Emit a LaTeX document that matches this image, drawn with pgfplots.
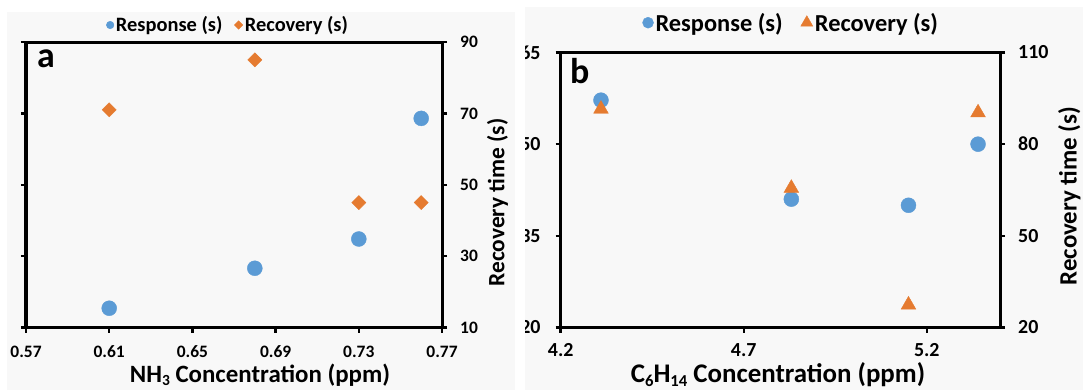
\documentclass[border=0pt]{standalone}
\usepackage{pgfplots}
\pgfplotsset{compat=1.18}
\usepackage{fontspec}
\setmainfont{Carlito}
\definecolor{cblue}{HTML}{5B9BD5}
\definecolor{corange}{HTML}{E57B30}
\definecolor{bg}{HTML}{F8F8F8}
\newcommand{\fs}[1]{\fontsize{#1}{#1}\selectfont\bfseries}
\newcommand{\sub}[1]{\raisebox{-0.12em}{\fontsize{0.62em}{0.62em}\selectfont #1}}

\begin{document}
\begin{tikzpicture}
\useasboundingbox (0bp,0bp) rectangle (1083bp,390bp);
\fill[bg] (7bp,0bp) rectangle (515bp,378bp);
\fill[bg] (525bp,0bp) rectangle (1083bp,383bp);

\pgfplotsset{
  every axis/.append style={
    scale only axis,
    axis line style={line width=3bp},
    major tick length=5bp,
    tick style={line width=2.5bp, black},
    tick align=outside,
    /pgf/number format/assume math mode=true,
    clip=false,
  },
}

% ---------------- Panel a ----------------
\begin{axis}[at={(26bp,62.5bp)}, anchor=south west, width=416bp, height=285.5bp,
  xmin=0.57, xmax=0.77, ymin=0, ymax=40,
  xtick={0.57,0.61,0.65,0.69,0.73,0.77},
  xticklabels={0.57,0.61,0.65,0.69,0.73,0.77},
  ytick={0,10,20,30,40}, yticklabels={},
  tick pos=left,
  xticklabel style={font=\fs{17.5}, anchor=center, inner sep=1bp, yshift=-19bp},
  xlabel={NH\sub{3} Concentration (ppm)},
  xlabel style={font=\fs{25}, inner sep=0pt, at={(axis description cs:0.5625,-0.168)}, anchor=center},
]
\addplot[only marks, mark=*, mark size=7.5bp, cblue] coordinates {(0.61,2.7) (0.68,8.3) (0.73,12.4) (0.76,29.3)};
\node[anchor=base west, font=\fs{36}, inner sep=0] at (rel axis cs:0.026,0.909) {a};
\end{axis}

\begin{axis}[at={(26bp,62.5bp)}, anchor=south west, width=416bp, height=285.5bp,
  xmin=0.57, xmax=0.77, ymin=10, ymax=90,
  axis x line=none, axis y line*=right,
  ytick={10,30,50,70,90}, yticklabels={10,30,50,70,90},
  yticklabel style={font=\fs{17.5}, anchor=west, inner sep=0, xshift=13bp},
  ylabel={Recovery time (s)},
  ylabel style={font=\fs{23.5}, at={(axis description cs:1.1337,0.438)}, anchor=center},
  legend style={draw=none, fill=none, at={(axis description cs:0.486,1.0595)}, anchor=center,
    legend columns=2, font=\fs{20.5}, /tikz/every even column/.append style={column sep=10bp}},
]
\addplot[only marks, mark=square*, mark options={rotate=45}, mark size=5bp, corange, forget plot] coordinates {(0.61,71) (0.68,85) (0.73,45) (0.76,45)};
\addlegendimage{only marks, mark=*, mark size=3.8bp, cblue}
\addlegendentry{Response (s)}
\addlegendimage{only marks, mark=square*, mark options={rotate=45}, mark size=3bp, corange}
\addlegendentry{Recovery (s)}
\end{axis}

% ---------------- Panel b ----------------
\begin{scope}
\clip (525bp,0bp) rectangle (1083bp,390bp);
\begin{axis}[at={(560.7bp,62.5bp)}, anchor=south west, width=439.3bp, height=275bp,
  xmin=4.2, xmax=5.4, ymin=20, ymax=65,
  xtick={4.2,4.7,5.2}, xticklabels={4.2,4.7,5.2},
  ytick={20,35,50,65}, yticklabels={20,35,50,65},
  tick pos=left,
  xticklabel style={font=\fs{20}, anchor=center, inner sep=1bp, yshift=-18bp},
  yticklabel style={font=\fs{20}, anchor=east, inner sep=0, xshift=-15bp},
  xlabel={C\sub{6}H\sub{14} Concentration (ppm)},
  xlabel style={font=\fs{27}, inner sep=0pt, at={(axis description cs:0.4946,-0.173)}, anchor=center},
]
\addplot[only marks, mark=*, mark size=7.5bp, cblue] coordinates {(4.31,57.2) (4.83,41.0) (5.15,40.0) (5.34,50.0)};
\node[anchor=base west, font=\fs{36}, inner sep=0] at (rel axis cs:0.021,0.889) {b};
\end{axis}

\begin{axis}[at={(560.7bp,62.5bp)}, anchor=south west, width=439.3bp, height=275bp,
  xmin=4.2, xmax=5.4, ymin=20, ymax=110,
  axis x line=none, axis y line*=right,
  ytick={20,50,80,110}, yticklabels={20,50,80,110},
  yticklabel style={font=\fs{20}, anchor=west, inner sep=0, xshift=13bp},
  ylabel={Recovery time (s)},
  ylabel style={font=\fs{25}, at={(axis description cs:1.158,0.478)}, anchor=center},
  legend style={draw=none, fill=none, at={(axis description cs:0.525,1.1084)}, anchor=center,
    legend columns=2, font=\fs{24.5}, /tikz/every even column/.append style={column sep=16bp}},
]
\addplot[only marks, mark=triangle*, mark size=8.5bp, corange, forget plot] coordinates {(4.31,91.5) (4.83,65.6) (5.15,27.4) (5.34,90.3)};
\addlegendimage{only marks, mark=*, mark size=5.5bp, cblue}
\addlegendentry{Response (s)}
\addlegendimage{only marks, mark=triangle*, mark size=7bp, corange}
\addlegendentry{Recovery (s)}
\end{axis}
\end{scope}
\end{tikzpicture}
\end{document}
